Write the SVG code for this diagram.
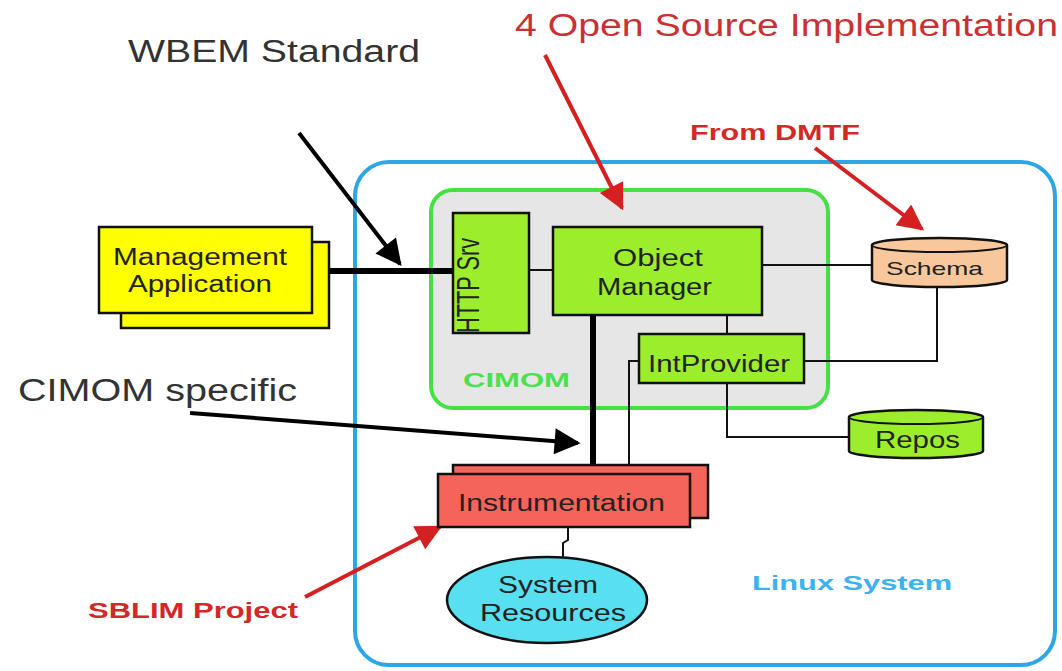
<svg xmlns="http://www.w3.org/2000/svg" width="1062" height="671" viewBox="0 0 1062 671">
  <defs>
    <marker id="ahBlack" viewBox="0 0 10 10" refX="9" refY="5" markerWidth="7.5" markerHeight="6.5" markerUnits="strokeWidth" orient="auto">
      <path d="M0,0 L10,5 L0,10 z" fill="#000"/>
    </marker>
    <marker id="ahRed" viewBox="0 0 10 10" refX="9" refY="5" markerWidth="7.5" markerHeight="6.5" markerUnits="strokeWidth" orient="auto">
      <path d="M0,0 L10,5 L0,10 z" fill="#d42020"/>
    </marker>
    <style>
      .box { stroke: #111; stroke-width: 2.5; }
      .lime { fill: #9cee2c; }
      .lbl { font-family: "Liberation Sans", Arial, sans-serif; font-size: 23px; fill: #222; }
      .note { font-family: "Liberation Sans", Arial, sans-serif; font-size: 31px; fill: #333; }
      .redbold { font-family: "Liberation Sans", Arial, sans-serif; font-weight: bold; fill: #d42828; }
      .wire { fill: none; stroke: #111; stroke-width: 2; }
      .thick { fill: none; stroke: #000; stroke-width: 6; }
    </style>
  </defs>

  <rect width="1062" height="671" fill="#fff"/>

  <!-- Linux system boundary -->
  <g id="linux-system">
    <rect x="355" y="162" width="700" height="503" rx="34" fill="none" stroke="#2ea6e6" stroke-width="4"/>
    <text x="752" y="590" font-family="Liberation Sans, Arial, sans-serif" font-weight="bold" font-size="21" fill="#3cb2ee" textLength="200" lengthAdjust="spacingAndGlyphs">Linux System</text>
  </g>

  <!-- CIMOM container -->
  <g id="cimom">
    <rect x="431" y="190" width="397" height="218" rx="22" fill="#e6e6e6" stroke="#44e044" stroke-width="4"/>
    <text x="463" y="387" font-family="Liberation Sans, Arial, sans-serif" font-weight="bold" font-size="21" fill="#4ce04c" textLength="107" lengthAdjust="spacingAndGlyphs">CIMOM</text>
  </g>

  <!-- connectors -->
  <g id="connectors">
    <line class="thick" x1="329" y1="271" x2="453" y2="271"/>
    <line class="wire" x1="529" y1="270" x2="553" y2="270"/>
    <line class="wire" x1="762" y1="265" x2="872" y2="265"/>
    <line class="wire" x1="727" y1="315" x2="727" y2="334"/>
    <polyline class="wire" points="804,361 937,361 937,287"/>
    <polyline class="wire" points="727,383 727,437 849,437"/>
    <line class="thick" x1="593" y1="315" x2="593" y2="466"/>
    <polyline class="wire" points="639,361 629,361 629,466"/>
    <polyline class="wire" points="568,527 568,540 563,543 563,557"/>

    <!-- annotation arrows -->
    <line x1="299" y1="133" x2="400" y2="264" stroke="#000" stroke-width="4" marker-end="url(#ahBlack)"/>
    <line x1="190" y1="413" x2="578" y2="443" stroke="#000" stroke-width="4" marker-end="url(#ahBlack)"/>
    <line x1="545" y1="55" x2="622" y2="208" stroke="#d42020" stroke-width="4" marker-end="url(#ahRed)"/>
    <line x1="815" y1="148" x2="922" y2="229" stroke="#d42020" stroke-width="4" marker-end="url(#ahRed)"/>
    <line x1="305" y1="597" x2="440" y2="527" stroke="#d42020" stroke-width="4" marker-end="url(#ahRed)"/>
  </g>

  <!-- Management Application (stacked) -->
  <g id="management-application">
    <rect class="box" x="121" y="242" width="208" height="86" fill="#ffff00"/>
    <rect class="box" x="99" y="227" width="213" height="86" fill="#ffff00"/>
    <text class="lbl" x="113" y="265" textLength="174" lengthAdjust="spacingAndGlyphs">Management</text>
    <text class="lbl" x="128" y="292" textLength="144" lengthAdjust="spacingAndGlyphs">Application</text>
  </g>

  <!-- HTTP server -->
  <g id="http-srv">
    <rect class="box lime" x="453" y="213" width="76" height="120"/>
    <text class="lbl" transform="translate(479,333) scale(1.4,1) rotate(-90)" x="0" y="0" textLength="95" lengthAdjust="spacingAndGlyphs">HTTP Srv</text>
  </g>

  <!-- Object Manager -->
  <g id="object-manager">
    <rect class="box lime" x="553" y="227" width="209" height="88"/>
    <text class="lbl" x="613" y="266" textLength="90" lengthAdjust="spacingAndGlyphs">Object</text>
    <text class="lbl" x="597" y="295" textLength="115" lengthAdjust="spacingAndGlyphs">Manager</text>
  </g>

  <!-- IntProvider -->
  <g id="int-provider">
    <rect class="box lime" x="639" y="334" width="165" height="49"/>
    <text class="lbl" x="648" y="372" textLength="142" lengthAdjust="spacingAndGlyphs">IntProvider</text>
  </g>

  <!-- Schema store -->
  <g id="schema">
    <path class="box" d="M872,245 a67.5,7 0 0 1 135,0 v35 a67.5,7 0 0 1 -135,0 z" fill="#f8c89c"/>
    <path class="wire" d="M872,245 a67.5,7 0 0 0 135,0"/>
    <text x="886" y="275" font-family="Liberation Sans, Arial, sans-serif" font-size="19" fill="#222" textLength="97" lengthAdjust="spacingAndGlyphs">Schema</text>
  </g>

  <!-- Repository -->
  <g id="repos">
    <path class="box" d="M849,417 a67,7 0 0 1 134,0 v34 a67,7 0 0 1 -134,0 z" fill="#9cee2c"/>
    <path class="wire" d="M849,417 a67,7 0 0 0 134,0"/>
    <text class="lbl" x="875" y="448" textLength="85" lengthAdjust="spacingAndGlyphs">Repos</text>
  </g>

  <!-- Instrumentation (stacked) -->
  <g id="instrumentation">
    <rect class="box" x="453" y="465" width="255" height="53" fill="#f4645a"/>
    <rect class="box" x="438" y="474" width="252" height="53" fill="#f4645a"/>
    <text class="lbl" x="458" y="511" textLength="207" lengthAdjust="spacingAndGlyphs">Instrumentation</text>
  </g>

  <!-- System Resources -->
  <g id="system-resources">
    <ellipse class="box" cx="547" cy="600" rx="100" ry="43" fill="#58dff0"/>
    <text class="lbl" x="498" y="593" textLength="100" lengthAdjust="spacingAndGlyphs" fill="#1a3a4a">System</text>
    <text class="lbl" x="480" y="621" textLength="146" lengthAdjust="spacingAndGlyphs" fill="#1a3a4a">Resources</text>
  </g>

  <!-- annotation labels -->
  <g id="labels">
    <text class="note" x="128" y="62" textLength="292" lengthAdjust="spacingAndGlyphs">WBEM Standard</text>
    <text class="note" x="515" y="36" font-size="32" style="fill:#c83232" textLength="543" lengthAdjust="spacingAndGlyphs">4 Open Source Implementation</text>
    <text class="redbold" x="690" y="140" font-size="22" textLength="170" lengthAdjust="spacingAndGlyphs">From DMTF</text>
    <text class="note" x="18" y="401" font-size="29" textLength="279" lengthAdjust="spacingAndGlyphs">CIMOM specific</text>
    <text class="redbold" x="88" y="618" font-size="22" textLength="210" lengthAdjust="spacingAndGlyphs">SBLIM Project</text>
  </g>
</svg>
